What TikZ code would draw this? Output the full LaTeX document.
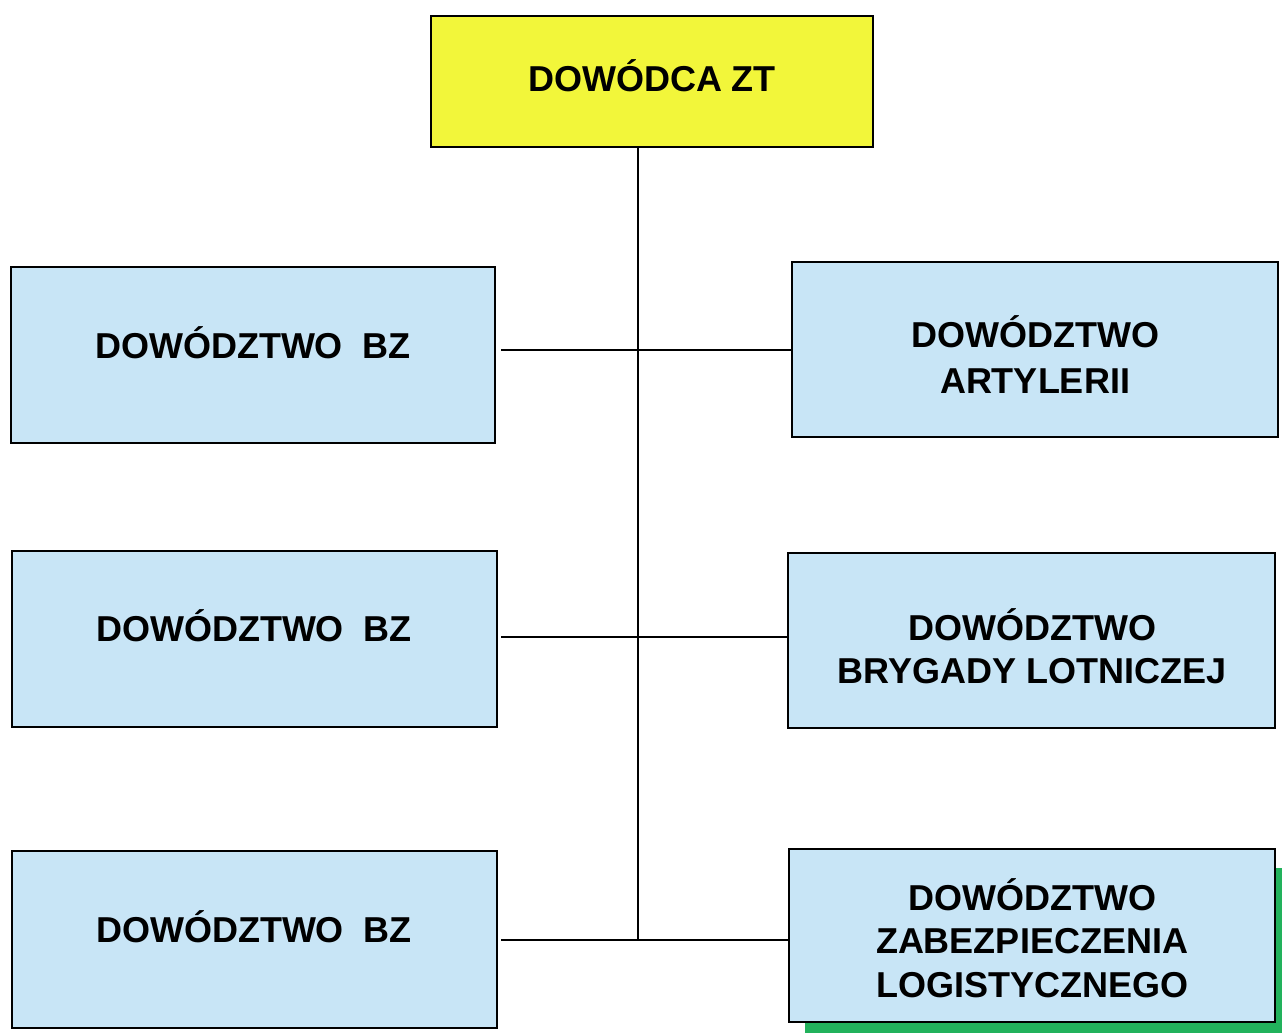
\documentclass[tikz,border=0pt]{standalone}
\usepackage{fontspec}
\setmainfont{Liberation Sans}
\definecolor{boxblue}{RGB}{200,229,246}
\definecolor{boxyellow}{RGB}{242,246,58}
\definecolor{shadegreen}{RGB}{34,178,92}
\tikzset{
  unitbox/.style={draw=black, line width=2.4pt, fill=boxblue, inner sep=0pt, outer sep=0pt, anchor=north west},
  headbox/.style={unitbox, fill=boxyellow},
  caption/.style={font=\fontsize{36}{44}\selectfont\bfseries, inner sep=0pt, anchor=base},
  link/.style={draw=black, line width=2pt},
}
\begin{document}
\begin{tikzpicture}[x=1pt, y=-1pt]
  % page
  \path[fill=white] (0,0) rectangle (1282,1033);
  \useasboundingbox (0,0) rectangle (1282,1033);

  % green band behind the lowest right-hand box
  \node[fill=shadegreen, inner sep=0pt, minimum width=477pt, minimum height=165pt, anchor=north west] (band) at (805,868) {};

  % boxes
  \node[headbox, minimum width=442pt, minimum height=131pt] (top) at (431,16) {};
  \node[unitbox, minimum width=484pt, minimum height=176pt] (lb1) at (11,267) {};
  \node[unitbox, minimum width=485pt, minimum height=176pt] (lb2) at (12,551) {};
  \node[unitbox, minimum width=485pt, minimum height=177pt] (lb3) at (12,851) {};
  \node[unitbox, minimum width=486pt, minimum height=175pt] (rb1) at (792,262) {};
  \node[unitbox, minimum width=487pt, minimum height=175pt] (rb2) at (788,553) {};
  \node[unitbox, minimum width=486pt, minimum height=173pt] (rb3) at (789,849) {};

  % labels
  \node[caption] (tTop) at (652,92) {DOWÓDCA ZT};
  \node[caption] (tL1) at (253,358) {DOWÓDZTWO~~BZ};
  \node[caption] (tL2) at (254,641) {DOWÓDZTWO~~BZ};
  \node[caption] (tL3) at (254,942) {DOWÓDZTWO~~BZ};
  \node[caption] (tR1a) at (1035,347) {DOWÓDZTWO};
  \node[caption] (tR1b) at (1035,393) {ARTYLERII};
  \node[caption] (tR2a) at (1032,640) {DOWÓDZTWO};
  \node[caption] (tR2b) at (1032,683) {BRYGADY LOTNICZEJ};
  \node[caption] (tR3a) at (1032,910) {DOWÓDZTWO};
  \node[caption] (tR3b) at (1032,953) {ZABEZPIECZENIA};
  \node[caption] (tR3c) at (1032,997) {LOGISTYCZNEGO};

  % spine and branches
  \coordinate (spineTop) at (638,147);
  \coordinate (j1) at (501,350);
  \coordinate (j2) at (501,637);
  \coordinate (j3) at (501,940);
  \coordinate (spineEnd) at (638,940);
  \draw[link] (spineTop) -- (spineEnd);
  \draw[link] (j1) -- (j1 -| rb1.west);
  \draw[link] (j2) -- (j2 -| rb2.west);
  \draw[link] (j3) -- (j3 -| rb3.west);
\end{tikzpicture}
\end{document}
